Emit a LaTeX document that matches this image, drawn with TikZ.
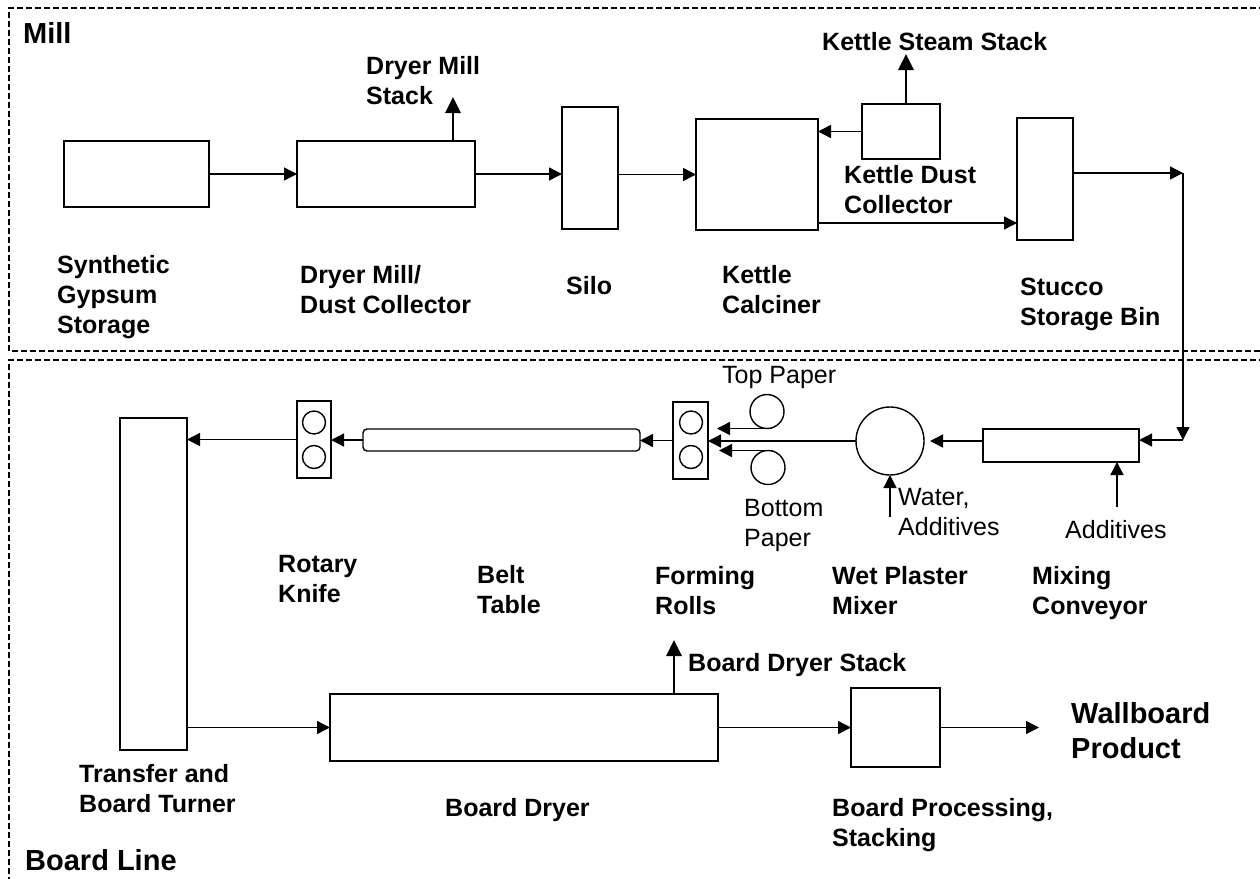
\documentclass[tikz,border=0pt]{standalone}
\usepackage{fontspec}
\setmainfont{Liberation Sans}
\usetikzlibrary{arrows.meta}
\begin{document}
\begin{tikzpicture}[x=1pt,y=-1pt,
  box/.style={draw,line width=1.4pt,inner sep=0pt,outer sep=0pt},
  roll/.style={box,circle},
  flow/.style={line width=1.4pt,-{Triangle[length=13pt,width=13pt]}},
  stackarrow/.style={line width=2.8pt,-{Triangle[length=16pt,width=15pt]}},
  lbl/.style={inner sep=0pt,anchor=north west,align=left,font=\bfseries\fontsize{25}{30}\selectfont},
  rlbl/.style={lbl,font=\fontsize{25}{30}\selectfont},
  big/.style={lbl,font=\bfseries\fontsize{29}{35}\selectfont},
  region/.style={line width=1.3pt,dash pattern=on 6pt off 3pt}
]
\useasboundingbox (0,0) rectangle (1260,878);
% regions
\draw[region] (1265,8) -- (9,8) -- (9,351) -- (1265,351);
\draw[region] (1265,360) -- (9,360) -- (9,885);
\node[big] (milllbl) at (23,19) {\strut Mill};
\node[big] (linelbl) at (25,846) {\strut Board Line};
% mill boxes
\node[box,minimum width=145pt,minimum height=66pt] (syn) at (136.5,174) {};
\node[box,minimum width=178pt,minimum height=66pt] (dmill) at (386,174) {};
\node[box,minimum width=56pt,minimum height=122pt] (silo) at (590,168) {};
\node[box,minimum width=122pt,minimum height=111pt] (kettle) at (757,174.5) {};
\node[box,minimum width=78pt,minimum height=55pt] (kdc) at (901,131.5) {};
\node[box,minimum width=56pt,minimum height=122pt] (stucco) at (1045,179) {};
\coordinate (dms) at (453,97);
\coordinate (kss) at (906,54);
\coordinate (c1) at (1183,173);
\coordinate (c2) at (1183,440);
% board line
\node[box,minimum width=67pt,minimum height=332pt] (transfer) at (153.5,584) {};
\node[box,minimum width=34pt,minimum height=77pt] (knife) at (314,439.5) {};
\node[roll,minimum size=23pt] (knife1) at (314,422.5) {};
\node[roll,minimum size=23pt] (knife2) at (314,457) {};
\node[box,rounded corners=4pt,minimum width=277pt,minimum height=22pt] (belt) at (501.5,440) {};
\node[box,minimum width=35pt,minimum height=77pt] (rolls) at (690.5,440.5) {};
\node[roll,minimum size=23pt] (rolls1) at (691,422.5) {};
\node[roll,minimum size=23pt] (rolls2) at (691,457) {};
\node[roll,minimum size=34pt] (topp) at (767,411.5) {};
\node[roll,minimum size=34pt] (botp) at (768,467.5) {};
\node[roll,minimum size=68pt] (mixer) at (890,441) {};
\node[box,minimum width=156pt,minimum height=33pt] (conveyor) at (1061,445.5) {};
\node[box,minimum width=388pt,minimum height=67pt] (dryer) at (524,727.5) {};
\node[box,minimum width=89pt,minimum height=79pt] (proc) at (895.5,727.5) {};
\coordinate (add) at (1117,507);
\coordinate (wat) at (890,517);
\coordinate (bds) at (674,640);
\coordinate (prod) at (1039,727.5);
% mill connectors
\draw[flow] (syn.east) -- (dmill.west);
\draw[flow] (dmill.east) -- (dmill.east -| silo.west);
\draw[flow] (silo.east |- kettle.west) -- (kettle.west);
\draw[flow] (kdc.west) -- (kdc.west -| kettle.east);
\draw[stackarrow] (dmill.north -| dms) -- (dms);
\draw[stackarrow] (kdc.north -| kss) -- (kss);
\path ([yshift=7pt]kettle.south east) coordinate (k1);
\draw[flow] (k1) -- (k1 -| stucco.west);
\draw[flow] (stucco.east |- c1) -- (c1);
\draw[flow] (c1) -- (c2);
% board line connectors
\draw[flow] (c2) -- (c2 -| conveyor.east);
\draw[flow,shorten >=6pt] (conveyor.west |- mixer.east) -- (mixer.east);
\draw[flow] (add) -- (add |- conveyor.south);
\draw[flow] (wat) -- (mixer.south);
\draw[flow] (mixer.west) -- (mixer.west -| rolls.east);
\draw[flow] ([xshift=5pt]topp.south) -- ([xshift=9pt]topp.south -| rolls.east);
\draw[flow] ([xshift=5pt]botp.north) -- ([xshift=11pt]botp.north -| rolls.east);
\draw[flow] (rolls.west) -- (rolls.west -| belt.east);
\draw[flow] (belt.west) -- (belt.west -| knife.east);
\draw[flow] (knife.west) -- (knife.west -| transfer.east);
\draw[flow] (transfer.east |- dryer.west) -- (dryer.west);
\draw[stackarrow] (dryer.north -| bds) -- (bds);
\draw[flow] (dryer.east) -- (proc.west);
\draw[flow] (proc.east) -- (prod);
% labels
\node[lbl] (dmslbl) at (366,53) {\strut Dryer Mill\\Stack};
\node[lbl] (synlbl) at (57,252) {\strut Synthetic\\Gypsum\\Storage};
\node[lbl] (dmilllbl) at (300,262) {\strut Dryer Mill/\\Dust Collector};
\node[lbl] (silolbl) at (566,273) {\strut Silo};
\node[lbl] (kettlelbl) at (722,262) {\strut Kettle\\Calciner};
\node[lbl] (kdclbl) at (844,162) {\strut Kettle Dust\\Collector};
\node[lbl] (stuccolbl) at (1020,274) {\strut Stucco\\Storage Bin};
\node[lbl] (ksslbl) at (822,29) {\strut Kettle Steam Stack};
\node[lbl] (knifelbl) at (278,551) {\strut Rotary\\Knife};
\node[lbl] (beltlbl) at (477,562) {\strut Belt\\Table};
\node[lbl] (rollslbl) at (655,563) {\strut Forming\\Rolls};
\node[lbl] (mixerlbl) at (832,563) {\strut Wet Plaster\\Mixer};
\node[lbl] (conveyorlbl) at (1032,563) {\strut Mixing\\Conveyor};
\node[lbl] (bdslbl) at (688,650) {\strut Board Dryer Stack};
\node[lbl] (transferlbl) at (79,761) {\strut Transfer and\\Board Turner};
\node[lbl] (dryerlbl) at (445,795) {\strut Board Dryer};
\node[lbl] (proclbl) at (832,795) {\strut Board Processing,\\Stacking};
\node[big] (prodlbl) at (1071,699) {\strut Wallboard\\Product};
\node[rlbl] (topplbl) at (722,362) {\strut Top Paper};
\node[rlbl] (botplbl) at (744,495) {\strut Bottom\\Paper};
\node[rlbl] (watlbl) at (898,484) {\strut Water,\\Additives};
\node[rlbl] (addlbl) at (1065,517) {\strut Additives};
\end{tikzpicture}
\end{document}
